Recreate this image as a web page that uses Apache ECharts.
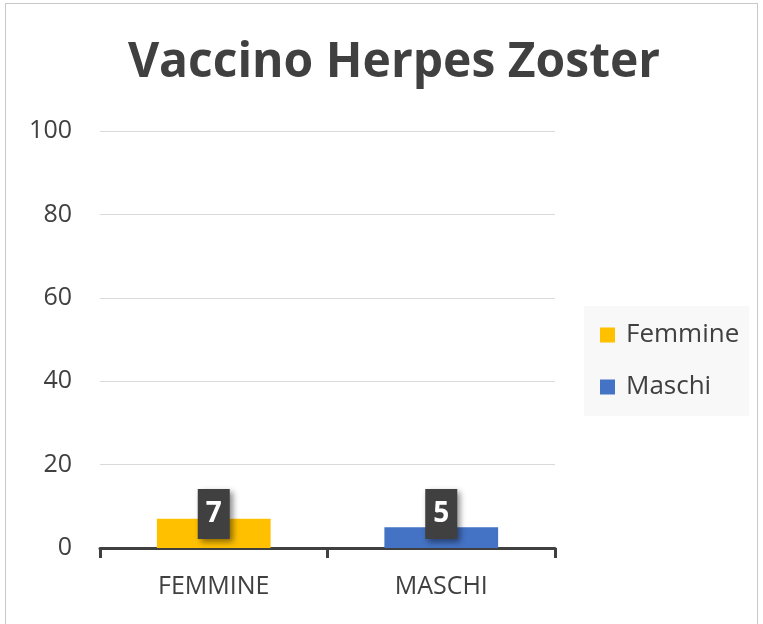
<!DOCTYPE html>
<html lang="it">
<head>
<meta charset="UTF-8">
<title>Vaccino Herpes Zoster</title>
<style>
    * { margin: 0; padding: 0; }
    body { background: #fff; }
    #frame { position: absolute; left: 5px; top: 3px; width: 753px; height: 640px; border: 1px solid #c8c8c8; box-sizing: border-box; }
    #chart { position: absolute; left: 0; top: 0; width: 763px; height: 624px; }
</style>
</head>
<body>
<div id="frame"></div>
<div id="chart"></div>
<script src="https://cdn.jsdelivr.net/npm/echarts@6/dist/echarts.min.js"></script>
<script>
    const categories = ['FEMMINE', 'MASCHI'];
    const seriesNames = ['Femmine', 'Maschi'];
    const femmine = [7, null];
    const maschi = [null, 5];
    const colors = ['#FFC000', '#4472C4'];

    var myChart = echarts.init(document.getElementById('chart'));

    // etichetta scura con ombra, come in Excel
    var boxLabel = {
        show: true,
        position: 'insideBottom',
        distance: 9,
        color: '#fff',
        fontSize: 28,
        fontWeight: 'bold',
        fontFamily: 'Open Sans',
        lineHeight: 32,
        backgroundColor: '#404040',
        padding: [9, 8, 9, 8],
        shadowColor: 'rgba(0,0,0,0.45)',
        shadowBlur: 6,
        shadowOffsetX: 3,
        shadowOffsetY: 3
    };

    myChart.setOption({
        animation: false,
        textStyle: { fontFamily: 'Open Sans', color: '#404040' },
        title: {
            text: 'Vaccino Herpes Zoster',
            left: 389,
            textAlign: 'center',
            top: 34,
            textStyle: { fontSize: 48, fontWeight: 'bold', color: '#404040', fontFamily: 'Open Sans' }
        },
        legend: {
            orient: 'vertical',
            left: 584,
            top: 306,
            width: 171,
            backgroundColor: '#f8f8f8',
            padding: [16, 10, 16, 16],
            itemWidth: 15,
            itemHeight: 15,
            itemGap: 26,
            icon: 'rect',
            data: seriesNames,
            textStyle: { fontSize: 26, color: '#404040', padding: [0, 14, 0, 6] }
        },
        grid: { left: 100, right: 208, top: 131, bottom: 76 },
        xAxis: {
            type: 'category',
            data: categories,
            axisLine: { lineStyle: { color: '#404040', width: 3 } },
            axisTick: { show: true, length: 10, lineStyle: { color: '#404040', width: 3 } },
            axisLabel: { fontSize: 25, color: '#404040', margin: 26 }
        },
        yAxis: {
            type: 'value',
            min: 0,
            max: 100,
            interval: 20,
            axisLine: { show: false },
            axisTick: { show: false },
            splitLine: { lineStyle: { color: '#d9d9d9', width: 1 } },
            axisLabel: { fontSize: 25, color: '#404040', margin: 28 }
        },
        series: [
            {
                name: seriesNames[0], type: 'bar', stack: 'g', barWidth: '50%',
                data: femmine, itemStyle: { color: colors[0] }, label: boxLabel
            },
            {
                name: seriesNames[1], type: 'bar', stack: 'g', barWidth: '50%',
                data: maschi, itemStyle: { color: colors[1] }, label: boxLabel
            }
        ]
    });
</script>
</body>
</html>
